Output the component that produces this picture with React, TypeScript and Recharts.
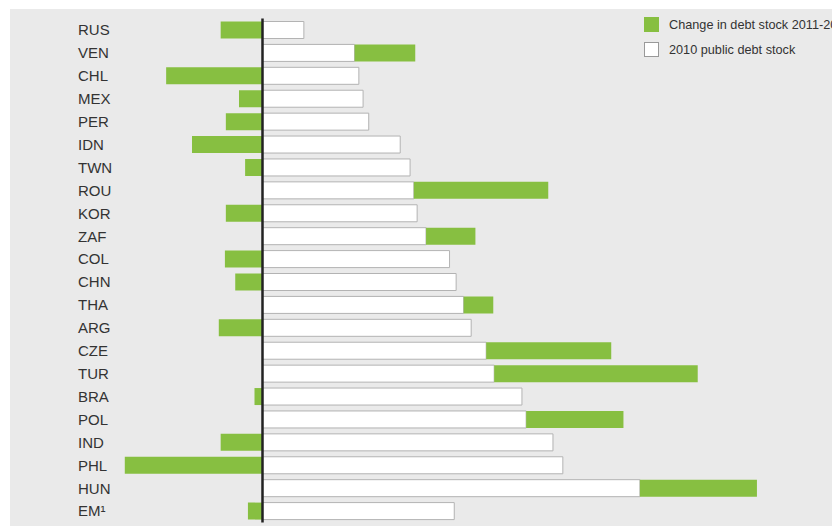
import React from 'react';
import { BarChart, Bar, XAxis, YAxis, ReferenceLine } from 'recharts';

// Public debt, % of GDP
const countries = [
  'RUS', 'VEN', 'CHL', 'MEX', 'PER', 'IDN', 'TWN', 'ROU', 'KOR', 'ZAF', 'COL',
  'CHN', 'THA', 'ARG', 'CZE', 'TUR', 'BRA', 'POL', 'IND', 'PHL', 'HUN', 'EM¹',
];
const debt2010 = [
  8.8, 19.6, 20.5, 21.4, 22.6, 29.3, 31.4, 32.2, 32.9, 34.8, 39.8,
  41.2, 42.8, 44.4, 47.6, 49.3, 55.2, 56.1, 61.8, 63.9, 80.3, 40.8,
];
const change = [
  -8.9, 12.9, -20.5, -5.0, -7.8, -15.0, -3.7, 28.6, -7.8, 10.5, -8.0,
  -5.8, 6.3, -9.3, 26.6, 43.3, -1.7, 20.7, -8.9, -29.3, 24.9, -3.1,
];

const GREEN = '#87bf41';
const BG = '#eaeaea';
const FONT = '"Liberation Sans", Arial, sans-serif';

const data = countries.map((c, i) => ({ country: c, base: debt2010[i], change: change[i] }));

const CountryTick = (props: any) => {
  const { y, payload } = props;
  return (
    <text x={68} y={y} dy="0.36em" textAnchor="start" fontSize={15} fill="#333" fontFamily={FONT}>
      {payload.value}
    </text>
  );
};

const LegendRow = ({ color, border, label, top }: { color: string; border: string; label: string; top: number }) => (
  <div style={{ position: 'absolute', left: 634, top, display: 'flex', alignItems: 'center', whiteSpace: 'nowrap' }}>
    <span style={{ display: 'inline-block', width: 15, height: 15, boxSizing: 'border-box', background: color, border: `1px solid ${border}` }} />
    <span style={{ marginLeft: 10, fontSize: 12.7, color: '#333', fontFamily: FONT }}>{label}</span>
  </div>
);

export default function App() {
  return (
    <div style={{ position: 'absolute', left: 0, top: 0, width: 832, height: 526, overflow: 'hidden', background: '#fff' }}>
      <div style={{ position: 'absolute', left: 10, top: 9, width: 822, height: 517, background: BG, overflow: 'hidden' }}>
        <BarChart
          width={822}
          height={517}
          data={data}
          layout="vertical"
          stackOffset="sign"
          barSize={17}
          margin={{ top: 9.5, right: 5.5, bottom: 3.5, left: 0 }}
        >
          <XAxis type="number" domain={[-30, 120]} hide allowDataOverflow />
          <YAxis
            type="category"
            dataKey="country"
            width={111.5}
            axisLine={false}
            tickLine={false}
            tick={<CountryTick />}
            interval={0}
          />
          <Bar dataKey="base" stackId="a" fill="#ffffff" stroke="#b3b3b3" strokeWidth={1} isAnimationActive={false} />
          <Bar dataKey="change" stackId="a" fill={GREEN} isAnimationActive={false} />
          <ReferenceLine x={0} stroke="#222" strokeWidth={2.5} />
        </BarChart>
        <LegendRow color={GREEN} border={GREEN} label="Change in debt stock 2011-2015" top={8} />
        <LegendRow color="#ffffff" border="#999" label="2010 public debt stock" top={33} />
      </div>
    </div>
  );
}
